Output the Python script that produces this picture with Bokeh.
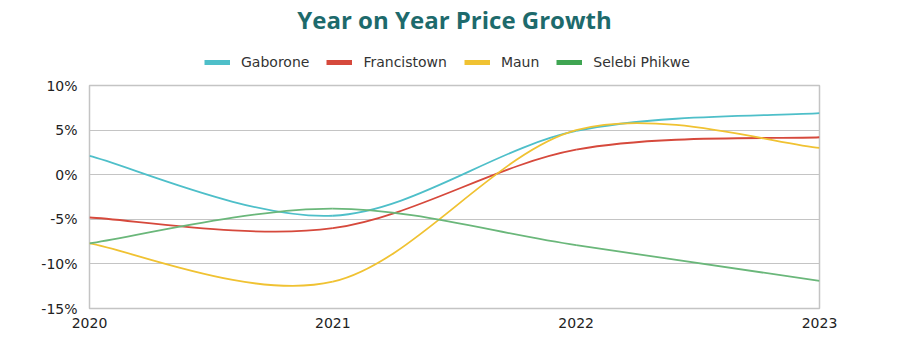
from bokeh.plotting import figure
from bokeh.layouts import column
from bokeh.models import (FixedTicker, PrintfTickFormatter, Legend, LegendItem,
                          ColumnDataSource, Range1d)
from bokeh.embed import file_html
from bokeh.resources import INLINE

# ---- data ----
years = [2020, 2021, 2022, 2023]
year_labels = ["2020", "2021", "2022", "2023"]
gaborone = [2.1, -4.6, 4.9, 6.9]
francistown = [-4.8, -6.0, 2.8, 4.2]
maun = [-7.7, -12.0, 5.0, 3.0]
selebi_phikwe = [-7.7, -3.8, -7.9, -11.9]
y_ticks = [-15, -10, -5, 0, 5, 10]

series_names = ["Gaborone", "Francistown", "Maun", "Selebi Phikwe"]
series_values = [gaborone, francistown, maun, selebi_phikwe]
line_colors = ["#4ebfc9", "#d6493c", "#f0c232", "#6ab77a"]
legend_colors = ["#4ebfc9", "#d6493c", "#f0c232", "#3fa552"]


def smooth_segments(xs, ys):
    """Excel-style smoothed line: cubic Bezier segments through the data points."""
    n = len(xs)
    d = dict(x0=[], y0=[], x1=[], y1=[], cx0=[], cy0=[], cx1=[], cy1=[])
    for i in range(n - 1):
        xp, yp = (xs[i - 1], ys[i - 1]) if i > 0 else (xs[i], ys[i])
        xn, yn = (xs[i + 2], ys[i + 2]) if i + 2 < n else (xs[i + 1], ys[i + 1])
        d["x0"].append(xs[i]); d["y0"].append(ys[i])
        d["x1"].append(xs[i + 1]); d["y1"].append(ys[i + 1])
        d["cx0"].append(xs[i] + (xs[i + 1] - xp) / 6)
        d["cy0"].append(ys[i] + (ys[i + 1] - yp) / 6)
        d["cx1"].append(xs[i + 1] - (xn - xs[i]) / 6)
        d["cy1"].append(ys[i + 1] - (yn - ys[i]) / 6)
    return ColumnDataSource(d)


# ---- header: title + legend ----
header = figure(width=912, height=77, output_backend="svg", toolbar_location=None,
                x_range=Range1d(0, 1), y_range=Range1d(0, 1),
                min_border=0, min_border_top=0)
header.axis.visible = False
header.grid.visible = False
header.outline_line_color = None
header.title.text = "Year on Year Price Growth"
header.title.align = "center"
header.title.text_font = "Open Sans"
header.title.text_font_size = "24px"
header.title.text_font_style = "bold"
header.title.text_color = "#1d6a6c"
header.title.offset = 0
header.title.standoff = 0

items = []
for name, vals, gc in zip(series_names, series_values, legend_colors):
    # legend swatch renderer: same series, lying outside the header's 0..1 view
    swatch = header.line(x=years, y=vals, line_color=gc, line_width=5)
    items.append(LegendItem(label=name, renderers=[swatch]))

legend = Legend(items=items, orientation="horizontal", location=(115, 7),
                label_text_font="DejaVu Sans", label_text_font_size="14px",
                label_text_color="#333333", glyph_width=26, glyph_height=12,
                label_standoff=11, spacing=17, padding=2, margin=0,
                border_line_color=None, background_fill_alpha=0)
header.add_layout(legend, "center")

# ---- main chart ----
p = figure(width=912, height=275, output_backend="svg", toolbar_location=None,
           x_range=Range1d(years[0], years[-1]), y_range=Range1d(y_ticks[0], y_ticks[-1]),
           min_border_left=89, min_border_right=93, min_border_bottom=44, min_border_top=8)

for name, vals, lc in zip(series_names, series_values, line_colors):
    src = smooth_segments(years, vals)
    p.bezier(x0="x0", y0="y0", x1="x1", y1="y1", cx0="cx0", cy0="cy0",
             cx1="cx1", cy1="cy1", source=src, line_color=lc, line_width=1.8)

p.xaxis.ticker = FixedTicker(ticks=years)
p.xaxis.major_label_overrides = {y: l for y, l in zip(years, year_labels)}
p.yaxis.ticker = FixedTicker(ticks=y_ticks)
p.yaxis.formatter = PrintfTickFormatter(format="%d%%")

for ax in (p.xaxis, p.yaxis):
    ax.axis_line_color = None
    ax.major_tick_line_color = None
    ax.minor_tick_line_color = None
    ax.major_label_text_font = "DejaVu Sans"
    ax.major_label_text_font_size = "14px"
    ax.major_label_text_color = "#222222"
p.yaxis.major_label_standoff = 6
p.xaxis.major_label_standoff = 3

p.xgrid.grid_line_color = None
p.ygrid.grid_line_color = "#c4c4c4"
p.ygrid.grid_line_width = 1
p.outline_line_color = "#c4c4c4"
p.outline_line_width = 1.5

layout = column(header, p, spacing=0)
open("out.html", "w").write(file_html(layout, INLINE))
